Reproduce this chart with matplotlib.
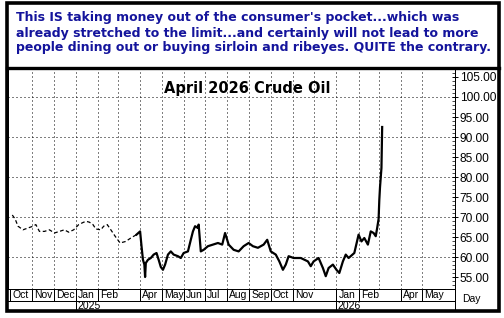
import numpy as np
import matplotlib
matplotlib.use("Agg")
import matplotlib.pyplot as plt
from matplotlib.lines import Line2D
from matplotlib.patches import Rectangle
from matplotlib.ticker import MultipleLocator, FormatStrFormatter

# price series (April 2026 crude oil, daily)
dates = np.array([
    "2024-10-04", "2024-10-08", "2024-10-12", "2024-10-19", "2024-10-26", "2024-11-02",
    "2024-11-06", "2024-11-11", "2024-11-18", "2024-11-25", "2024-12-02", "2024-12-09",
    "2024-12-16", "2024-12-22", "2024-12-29", "2025-01-05", "2025-01-12", "2025-01-16",
    "2025-01-20", "2025-01-25", "2025-01-29", "2025-02-05", "2025-02-09", "2025-02-14",
    "2025-02-19", "2025-02-25", "2025-03-04", "2025-03-12", "2025-03-19", "2025-03-27",
    "2025-04-01", "2025-04-03", "2025-04-05", "2025-04-07", "2025-04-08", "2025-04-09",
    "2025-04-12", "2025-04-16", "2025-04-20", "2025-04-24", "2025-04-27", "2025-04-30",
    "2025-05-03", "2025-05-06", "2025-05-10", "2025-05-14", "2025-05-18", "2025-05-24",
    "2025-05-28", "2025-06-01", "2025-06-07", "2025-06-11", "2025-06-14", "2025-06-17",
    "2025-06-21", "2025-06-22", "2025-06-25", "2025-06-29", "2025-07-05", "2025-07-12",
    "2025-07-19", "2025-07-25", "2025-07-29", "2025-08-03", "2025-08-10", "2025-08-17",
    "2025-08-24", "2025-08-31", "2025-09-06", "2025-09-13", "2025-09-21", "2025-09-26",
    "2025-10-01", "2025-10-08", "2025-10-13", "2025-10-18", "2025-10-22", "2025-10-26",
    "2025-11-02", "2025-11-12", "2025-11-22", "2025-11-26", "2025-11-30", "2025-12-07",
    "2025-12-13", "2025-12-17", "2025-12-21", "2025-12-27", "2026-01-01", "2026-01-05",
    "2026-01-10", "2026-01-14", "2026-01-18", "2026-01-26", "2026-02-01", "2026-02-05",
    "2026-02-09", "2026-02-14", "2026-02-18", "2026-02-22", "2026-02-25", "2026-02-27",
    "2026-03-01", "2026-03-02", "2026-03-03", "2026-03-05", "2026-03-06",
], dtype="datetime64[D]")
prices = np.array([
    70.5, 69.5, 67.7, 66.8, 67.25, 67.7,
    68.1, 66.4, 66.4, 66.8, 66.0, 66.4,
    66.8, 66.2, 66.8, 68.1, 68.7, 68.9,
    68.7, 68.1, 67.0, 66.8, 67.7, 68.1,
    66.8, 65.2, 63.5, 63.9, 64.75, 65.6,
    66.4, 62.7, 59.3, 58.1, 55.0, 58.5,
    59.3, 59.75, 60.6, 61.0, 59.3, 57.5,
    56.8, 58.1, 60.6, 61.4, 60.6, 60.2,
    59.75, 61.0, 61.4, 64.3, 66.4, 67.7,
    67.25, 68.1, 61.4, 61.8, 62.7, 63.1,
    63.5, 63.1, 66.0, 63.1, 61.8, 61.4,
    62.7, 63.5, 62.7, 62.3, 63.1, 64.3,
    61.4, 60.6, 58.9, 56.8, 58.1, 60.2,
    59.75, 59.75, 58.9, 57.7, 58.9, 59.75,
    57.25, 55.2, 57.25, 58.1, 56.8, 56.0,
    58.9, 60.6, 59.75, 61.0, 65.6, 63.9,
    64.75, 63.1, 66.4, 66.0, 65.2, 67.25,
    69.5, 74.25, 77.5, 82.25, 92.5,
])
active_from = np.datetime64("2025-04-01")

month_starts = np.arange("2024-11", "2026-06", dtype="datetime64[M]").astype("datetime64[D]")
month_labels = [("2024-10-01", "Oct"), ("2024-11-01", "Nov"), ("2024-12-01", "Dec"),
                ("2025-01-01", "Jan"), ("2025-02-01", "Feb"), ("2025-04-01", "Apr"),
                ("2025-05-01", "May"), ("2025-06-01", "Jun"), ("2025-07-01", "Jul"),
                ("2025-08-01", "Aug"), ("2025-09-01", "Sep"), ("2025-10-01", "Oct"),
                ("2025-11-01", "Nov"), ("2026-01-01", "Jan"), ("2026-02-01", "Feb"),
                ("2026-04-01", "Apr"), ("2026-05-01", "May")]
year_labels = [("2025-01-01", "2025"), ("2026-01-01", "2026")]

banner = ["This IS taking money out of the consumer's pocket...which was",
          "already stretched to the limit...and certainly will not lead to more",
          "people dining out or buying sirloin and ribeyes. QUITE the contrary."]
title = "April 2026 Crude Oil"

W, H = 504, 318
fig = plt.figure(figsize=(W / 100, H / 100), dpi=100)


def fx(px):
    return px / W


def fy(py):
    return 1 - py / H


ax = fig.add_axes([fx(8), fy(289), fx(455) - fx(8), fy(68) - fy(289)])
ax.set_xlim(np.datetime64("2024-09-28"), np.datetime64("2026-06-16"))
ax.set_ylim(52, 107.25)

# grid
for d in month_starts:
    ax.axvline(d, color="black", lw=0.72, ls=(0, (1, 3)), zorder=1)
for v in range(60, 101, 10):
    ax.axhline(v, color="black", lw=0.72, ls=(0, (1, 3)), zorder=1)

early = dates < active_from
ax.plot(dates[early], prices[early], color="black", lw=0.9, ls=(0, (3, 2)), zorder=3)
late = np.where(~early)[0]
late = np.concatenate([[late[0] - 1], late])
ax.plot(dates[late], prices[late], color="black", lw=1.6, zorder=3)

# right price axis
ax.yaxis.tick_right()
ax.yaxis.set_major_locator(MultipleLocator(5))
ax.yaxis.set_minor_locator(MultipleLocator(1))
ax.yaxis.set_major_formatter(FormatStrFormatter("%.2f"))
ax.tick_params(axis="y", which="major", direction="inout", length=5, width=0.7, pad=1)
ax.tick_params(axis="y", which="minor", direction="in", length=2, width=0.5)
for lab in ax.get_yticklabels():
    lab.set_fontfamily("Liberation Sans")
    lab.set_fontsize(8.6)
ax.set_xticks([])
for s in ax.spines.values():
    s.set_linewidth(0.72)

ax.text(0.535, 0.905, title, transform=ax.transAxes, ha="center", va="center",
        fontsize=10.5, fontweight="bold", family="DejaVu Sans", zorder=4)

# date axis rows
xt = ax.get_xaxis_transform()
row1 = -12 / 221
row2 = -22 / 221
for d, lab in month_labels:
    d = np.datetime64(d)
    ax.plot([d, d], [0, row1], transform=xt, color="black", lw=0.72, clip_on=False)
    ax.text(d + np.timedelta64(3, "D"), row1 / 2, lab, transform=xt, ha="left", va="center",
            fontsize=7.5, family="Liberation Sans")
ax.plot([0, 1], [row1, row1], transform=ax.transAxes, color="black", lw=0.72, clip_on=False)
for d, lab in year_labels:
    d = np.datetime64(d)
    ax.plot([d, d], [row1, row2], transform=xt, color="black", lw=0.72, clip_on=False)
    ax.text(d + np.timedelta64(2, "D"), (row1 + row2) / 2, lab, transform=xt, ha="left", va="center",
            fontsize=7.5, family="Liberation Sans")
fig.add_artist(Line2D([fx(455), fx(455)], [fy(289), fy(311)], color="black", lw=0.72))
fig.text(fx(471), fy(299), "Day", ha="center", va="center", fontsize=7.5, family="Liberation Sans")

# banner
for i, line in enumerate(banner):
    fig.text(fx(16), fy(18 + 15 * i), line, ha="left", va="center", fontsize=9,
             fontweight="bold", color="#14149c", family="DejaVu Sans")

# frame and separator
fig.add_artist(Rectangle((fx(6.5), fy(310.5)), fx(499) - fx(6.5), fy(2.5) - fy(310.5),
                         fill=False, edgecolor="black", lw=2.6))
fig.add_artist(Line2D([fx(6.5), fx(499)], [fy(67.5), fy(67.5)], color="black", lw=2.4))

fig.savefig("out.png", dpi=100)
